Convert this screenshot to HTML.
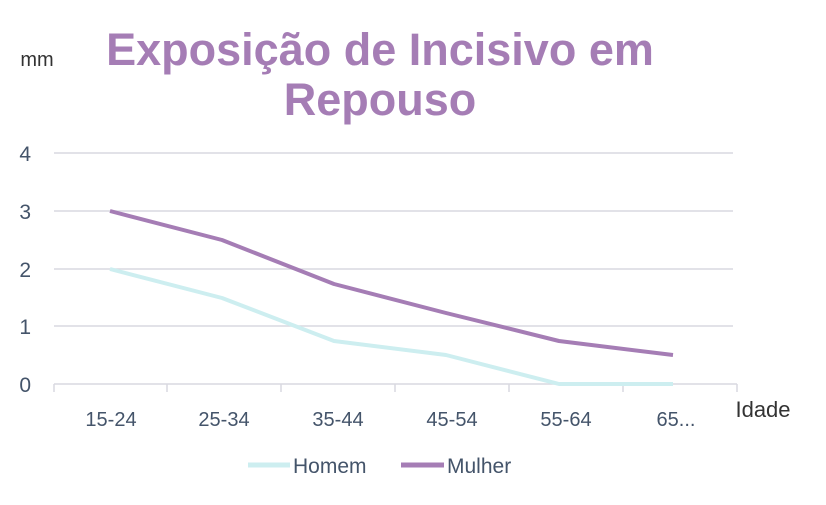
<!DOCTYPE html>
<html><head><meta charset="utf-8"><style>
body{margin:0;background:#fff;width:826px;height:500px;overflow:hidden}
svg text{font-family:"Liberation Sans",sans-serif}
</style></head><body>
<svg width="826" height="500" xmlns="http://www.w3.org/2000/svg">
<g stroke="#d9d9e0" stroke-width="1.5">
<line x1="54" y1="153" x2="733" y2="153"/>
<line x1="54" y1="211" x2="733" y2="211"/>
<line x1="54" y1="269" x2="733" y2="269"/>
<line x1="54" y1="326" x2="733" y2="326"/>
<line x1="54" y1="384" x2="737" y2="384"/>
<line x1="54" y1="384" x2="54" y2="392"/>
<line x1="167" y1="384" x2="167" y2="392"/>
<line x1="281" y1="384" x2="281" y2="392"/>
<line x1="395" y1="384" x2="395" y2="392"/>
<line x1="509" y1="384" x2="509" y2="392"/>
<line x1="623" y1="384" x2="623" y2="392"/>
<line x1="737" y1="384" x2="737" y2="392"/>
</g>
<g font-size="21" fill="#44546a" text-anchor="end">
<text x="31" y="161">4</text><text x="31" y="219">3</text><text x="31" y="277">2</text><text x="31" y="334">1</text><text x="31" y="392">0</text>
</g>
<g font-size="20" fill="#44546a" text-anchor="middle">
<text x="111" y="426">15-24</text><text x="224" y="426">25-34</text><text x="338" y="426">35-44</text><text x="452" y="426">45-54</text><text x="566" y="426">55-64</text><text x="676" y="426">65...</text>
</g>
<text x="763" y="417" font-size="22" fill="#333" text-anchor="middle">Idade</text>
<text x="37" y="66" font-size="20" fill="#333" text-anchor="middle">mm</text>
<g font-size="45" font-weight="bold" fill="#a57db5" text-anchor="middle">
<text x="380" y="65">Exposição de Incisivo em</text>
<text x="380" y="115">Repouso</text>
</g>
<polyline fill="none" stroke="#cdeef0" stroke-width="4" stroke-linejoin="round" points="110,269 222,298 334,341 446,355 559,384 673,384"/>
<polyline fill="none" stroke="#a57db5" stroke-width="4" stroke-linejoin="round" points="110,211 222,240 334,284 446,313 559,341 673,355"/>
<line x1="248" y1="465" x2="290" y2="465" stroke="#cdeef0" stroke-width="5"/>
<text x="293" y="473" font-size="21" fill="#44546a">Homem</text>
<line x1="401" y1="465" x2="444" y2="465" stroke="#a57db5" stroke-width="5"/>
<text x="447" y="473" font-size="21" fill="#44546a">Mulher</text>
</svg>
</body></html>
